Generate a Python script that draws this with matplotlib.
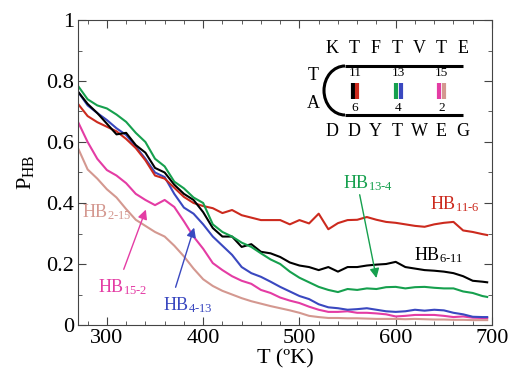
import matplotlib
matplotlib.use('Agg')
import matplotlib.pyplot as plt
from matplotlib.patches import Arc
from matplotlib.ticker import MultipleLocator

plt.rcParams['font.family'] = ['Liberation Serif', 'DejaVu Serif']
plt.rcParams['mathtext.fontset'] = 'custom'
plt.rcParams['mathtext.rm'] = 'Liberation Serif'
plt.rcParams['mathtext.it'] = 'Liberation Serif'

# temperature grid (K)
temps = list(range(270, 700, 10)) + [695]

# hydrogen bond probabilities
hb_13_4 = [0.784, 0.74, 0.72, 0.71, 0.69, 0.666, 0.63, 0.60, 0.545, 0.52,
           0.47, 0.448, 0.418, 0.40, 0.33, 0.305, 0.29, 0.27, 0.256, 0.235,
           0.215, 0.20, 0.175, 0.155, 0.14, 0.125, 0.115, 0.108, 0.118, 0.115,
           0.12, 0.118, 0.124, 0.125, 0.12, 0.124, 0.125, 0.122, 0.12, 0.12,
           0.11, 0.105, 0.095, 0.092]
hb_6_11 = [0.765, 0.725, 0.695, 0.66, 0.625, 0.63, 0.59, 0.565, 0.515, 0.50,
           0.46, 0.43, 0.41, 0.37, 0.318, 0.29, 0.29, 0.256, 0.265, 0.24,
           0.235, 0.223, 0.205, 0.195, 0.19, 0.18, 0.19, 0.175, 0.19, 0.19,
           0.195, 0.198, 0.20, 0.207, 0.19, 0.185, 0.18, 0.178, 0.175, 0.17,
           0.16, 0.145, 0.142, 0.14]
hb_4_13 = [0.765, 0.72, 0.695, 0.672, 0.645, 0.623, 0.585, 0.545, 0.50, 0.485,
           0.43, 0.385, 0.365, 0.33, 0.29, 0.26, 0.23, 0.19, 0.17, 0.158,
           0.142, 0.125, 0.11, 0.095, 0.085, 0.068, 0.058, 0.055, 0.05, 0.052,
           0.055, 0.05, 0.045, 0.043, 0.045, 0.05, 0.047, 0.05, 0.048, 0.04,
           0.035, 0.027, 0.026, 0.026]
hb_11_6 = [0.725, 0.685, 0.665, 0.65, 0.635, 0.61, 0.58, 0.54, 0.49, 0.48,
           0.45, 0.42, 0.40, 0.39, 0.383, 0.367, 0.377, 0.36, 0.352, 0.344,
           0.344, 0.344, 0.33, 0.344, 0.333, 0.365, 0.314, 0.334, 0.344, 0.345,
           0.354, 0.345, 0.338, 0.335, 0.33, 0.325, 0.322, 0.33, 0.335, 0.338,
           0.31, 0.305, 0.298, 0.295]
hb_15_2 = [0.666, 0.60, 0.545, 0.508, 0.49, 0.465, 0.43, 0.41, 0.393, 0.41,
           0.387, 0.34, 0.29, 0.25, 0.203, 0.18, 0.16, 0.145, 0.135, 0.115,
           0.105, 0.09, 0.08, 0.072, 0.06, 0.05, 0.043, 0.043, 0.045, 0.04,
           0.04, 0.038, 0.035, 0.028, 0.03, 0.033, 0.033, 0.033, 0.03, 0.026,
           0.028, 0.024, 0.023, 0.023]
hb_2_15 = [0.58, 0.51, 0.48, 0.445, 0.418, 0.38, 0.345, 0.325, 0.305, 0.29,
           0.26, 0.225, 0.185, 0.15, 0.128, 0.112, 0.10, 0.088, 0.078, 0.07,
           0.062, 0.055, 0.048, 0.04, 0.03, 0.026, 0.023, 0.023, 0.022, 0.022,
           0.021, 0.02, 0.02, 0.02, 0.019, 0.02, 0.019, 0.018, 0.018, 0.017,
           0.017, 0.016, 0.016, 0.016]

c_green = '#16a04e'
c_black = '#000000'
c_blue = '#3a48c0'
c_red = '#cc2a1e'
c_mag = '#e43ca4'
c_pink = '#d49890'

fig = plt.figure(figsize=(5.1, 3.69), dpi=100)
ax = fig.add_axes([78 / 510, 44 / 369, 414 / 510, 305 / 369])

series = [(hb_2_15, c_pink), (hb_15_2, c_mag), (hb_4_13, c_blue),
          (hb_11_6, c_red), (hb_6_11, c_black), (hb_13_4, c_green)]
for vals, col in series:
    ax.plot(temps, vals, color=col, lw=1.5)

ax.set_xlim(270, 700)
ax.set_ylim(0, 1)
ax.xaxis.set_major_locator(MultipleLocator(100))
ax.xaxis.set_minor_locator(MultipleLocator(20))
ax.yaxis.set_major_locator(MultipleLocator(0.2))
ax.yaxis.set_minor_locator(MultipleLocator(0.1))
ax.set_yticks([0, 0.2, 0.4, 0.6, 0.8, 1])
ax.set_yticklabels(['0', '0.2', '0.4', '0.6', '0.8', '1'])
ax.tick_params(which='both', direction='in', top=True, right=True,
               labelsize=16, color='#444444', pad=3)
ax.tick_params(which='major', length=6)
ax.tick_params(which='minor', length=3)
for sp in ax.spines.values():
    sp.set_color('#444444')
ax.set_xlabel('T (ºK)', fontsize=16, labelpad=1)
ax.set_ylabel(r'P$_{\rm HB}$', fontsize=16, labelpad=7)

# curve labels
fs = 13
ax.text(274, 0.354, r'HB$_{\rm 2\text{-}15}$', color=c_pink, fontsize=fs)
ax.text(636, 0.38, r'HB$_{\rm 11\text{-}6}$', color=c_red, fontsize=fs)
ax.text(619, 0.213, r'HB$_{\rm 6\text{-}11}$', color=c_black, fontsize=fs)
ax.text(291, 0.108, r'HB$_{\rm 15\text{-}2}$', color=c_mag, fontsize=fs)
ax.text(358, 0.049, r'HB$_{\rm 4\text{-}13}$', color=c_blue, fontsize=fs)
ax.text(545, 0.449, r'HB$_{\rm 13\text{-}4}$', color=c_green, fontsize=fs)

arrow_kw = dict(arrowstyle='-|>', lw=1.0, mutation_scale=14)
ax.annotate('', xy=(341.5, 0.387), xytext=(316.5, 0.174),
            arrowprops=dict(color=c_mag, **arrow_kw))
ax.annotate('', xy=(391.5, 0.328), xytext=(370.5, 0.115),
            arrowprops=dict(color=c_blue, **arrow_kw))
ax.annotate('', xy=(580.5, 0.145), xytext=(562, 0.436),
            arrowprops=dict(color=c_green, **arrow_kw))

# hairpin sketch (inset in pixel-like units)
ins = fig.add_axes([300 / 510, (369 - 142) / 369, 170 / 510, 107 / 369])
ins.set_xlim(300, 470)
ins.set_ylim(142, 35)
ins.axis('off')

top_seq = ['K', 'T', 'F', 'T', 'V', 'T', 'E']
bot_seq = ['D', 'D', 'Y', 'T', 'W', 'E', 'G']
for i, (a, b) in enumerate(zip(top_seq, bot_seq)):
    xx = 332 + i * 21.8
    ins.text(xx, 53, a, fontsize=13, ha='center', va='baseline')
    ins.text(xx, 136, b, fontsize=13, ha='center', va='baseline')
ins.text(313, 80, 'T', fontsize=13, ha='center', va='baseline')
ins.text(313, 108, 'A', fontsize=13, ha='center', va='baseline')

ins.plot([345, 463], [66, 66], color='black', lw=2.2, solid_capstyle='butt')
ins.plot([345, 463], [115, 115], color='black', lw=2.2, solid_capstyle='butt')
ins.add_patch(Arc((345, 90.5), 42, 49, theta1=90, theta2=270,
                  color='black', lw=2.2))

pairs = [('11', '6', c_black, c_red, 355),
         ('13', '4', c_green, c_blue, 398.5),
         ('15', '2', c_mag, c_pink, 441.5)]
for top, bot, ca, cb, xc in pairs:
    ins.text(xc, 76, top, fontsize=9.5, ha='center', va='baseline')
    ins.text(xc, 111, bot, fontsize=9.5, ha='center', va='baseline')
    ins.plot([xc - 2.3, xc - 2.3], [83, 99], color=ca, lw=3.0,
             solid_capstyle='butt')
    ins.plot([xc + 2.3, xc + 2.3], [83, 99], color=cb, lw=3.0,
             solid_capstyle='butt')

fig.savefig('out.png', dpi=100)
